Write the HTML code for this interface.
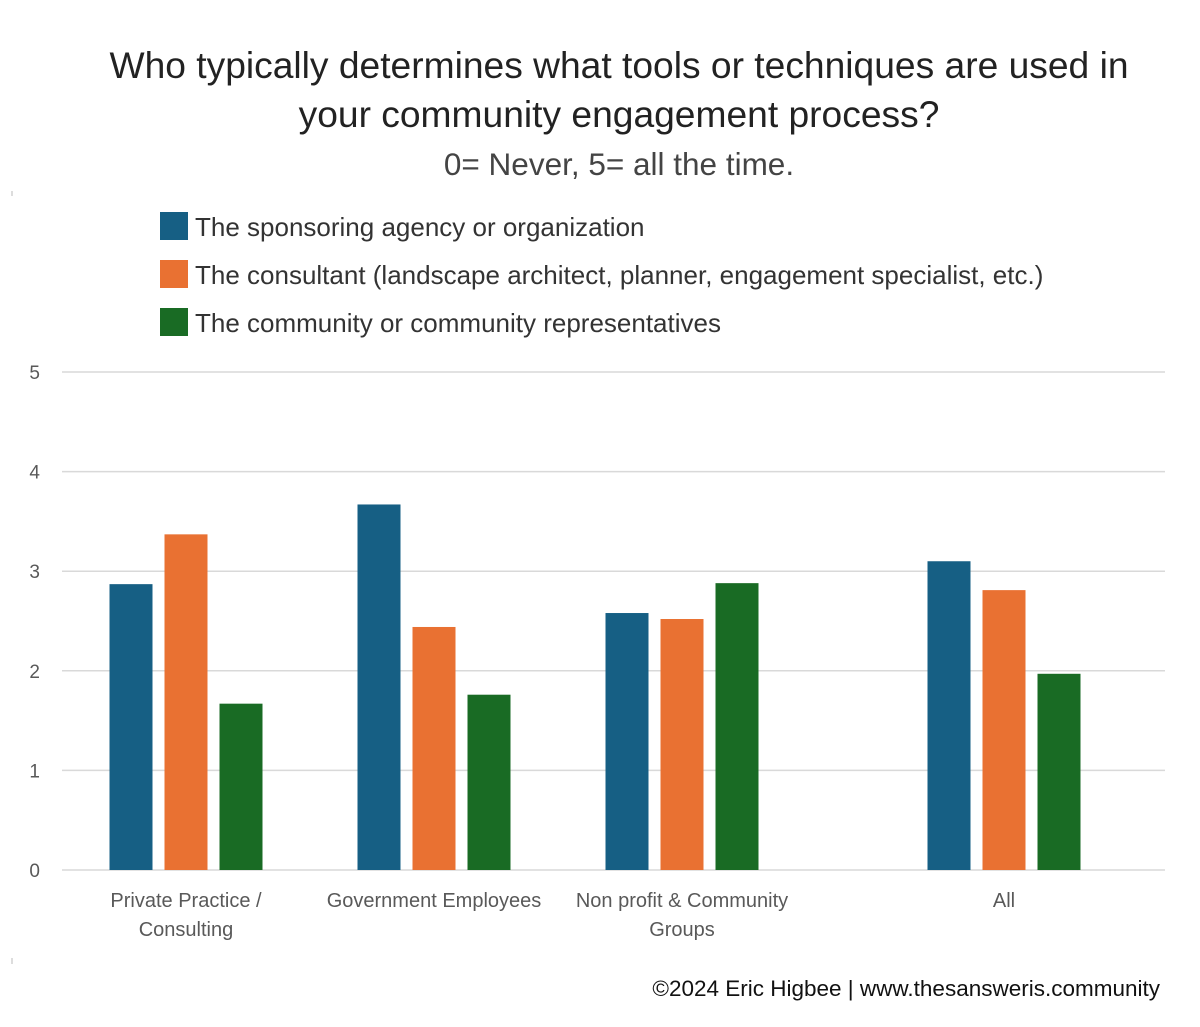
<!DOCTYPE html>
<html><head><meta charset="utf-8"><style>
body{margin:0;background:#fff;width:1200px;height:1022px;overflow:hidden;font-family:"Liberation Sans",sans-serif}
svg text{font-family:"Liberation Sans",sans-serif}
</style></head><body>
<svg id="c" width="1200" height="1022">
<text x="619" y="78" font-size="37.2" fill="#222" text-anchor="middle">Who typically determines what tools or techniques are used in</text>
<text x="619" y="127" font-size="37.2" fill="#222" text-anchor="middle">your community engagement process?</text>
<text x="619" y="175" font-size="31.5" fill="#444" text-anchor="middle">0= Never, 5= all the time.</text>
<line x1="12" y1="191" x2="12" y2="196" stroke="#bbb"/>
<line x1="12" y1="958" x2="12" y2="964" stroke="#bbb"/>
<g id="legend"></g>
<g id="grid"></g>
<g id="bars"></g>
<g id="xl"></g>
<text x="1160" y="996" font-size="22.5" fill="#111" text-anchor="end">©2024 Eric Higbee | www.thesansweris.community</text>
</svg>
<script>
const categories=[["Private Practice /","Consulting"],["Government Employees"],["Non profit & Community","Groups"],["All"]];
const seriesNames=["The sponsoring agency or organization","The consultant (landscape architect, planner, engagement specialist, etc.)","The community or community representatives"];
const agency=[2.87,3.67,2.58,3.1];
const consultant=[3.37,2.44,2.52,2.81];
const community=[1.67,1.76,2.88,1.97];
const yTicks=[0,1,2,3,4,5];
const colors=["#165f84","#e97132","#196b24"];
const series=[agency,consultant,community];
const NS="http://www.w3.org/2000/svg";
function mk(t,a,p){const e=document.createElementNS(NS,t);for(const k in a)e.setAttribute(k,a[k]);p.appendChild(e);return e;}
const y=v=>870-v*99.6;
const x=i=>i<3?186+248*i:1004;
const lg=document.getElementById('legend');
seriesNames.forEach((n,i)=>{
 const r=mk('rect',{x:160,y:212+i*48,width:28,height:28,fill:colors[i]},lg);
 
 
 const t=mk('text',{x:195,y:236+i*48,'font-size':26,fill:'#333'},lg);t.textContent=n;
 
 
});
const g=document.getElementById('grid');
yTicks.forEach(v=>{
 const l=mk('line',{x1:62,x2:1165,y1:y(v),y2:y(v),stroke:'#d9d9d9','stroke-width':1.5},g);
 
 
 const t=mk('text',{x:40,y:y(v)+7,'font-size':19,fill:'#595959','text-anchor':'end'},g);t.textContent=v;
 
 
});
const b=document.getElementById('bars');
series.forEach((s,si)=>s.forEach((v,i)=>{
 const cx=x(i)+(si-1)*55;
 const r=mk('rect',{x:cx-21.5,y:y(v),width:43,height:y(0)-y(v),fill:colors[si]},b);
 
 
}));
const xl=document.getElementById('xl');
categories.forEach((c,i)=>c.forEach((ln,j)=>{
 const t=mk('text',{x:x(i),y:907+j*29,'font-size':20,fill:'#595959','text-anchor':'middle'},xl);t.textContent=ln;
 
 
}));
</script>
</body></html>
